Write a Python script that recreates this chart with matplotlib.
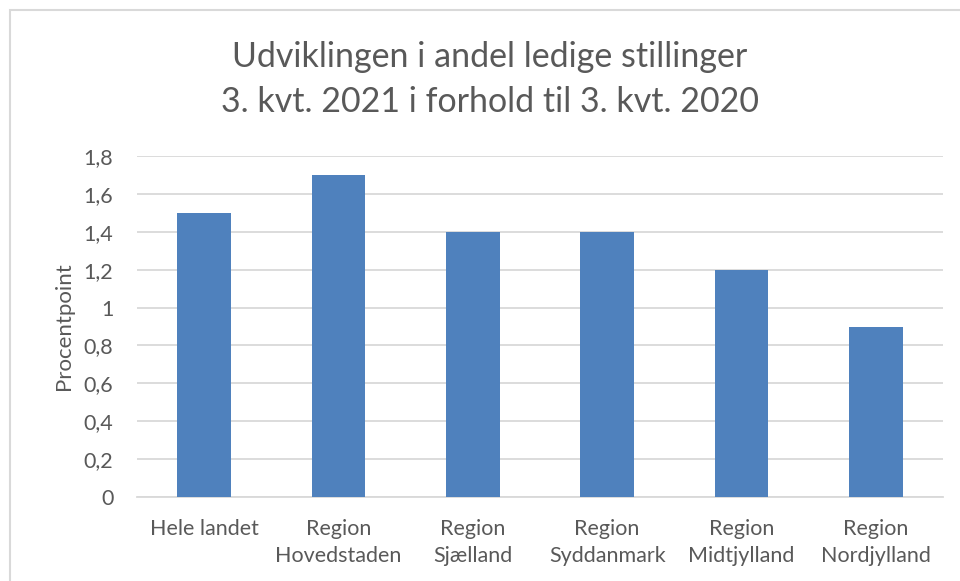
import matplotlib
matplotlib.use('Agg')
import matplotlib.pyplot as plt
from matplotlib.patches import Rectangle

categories = ['Hele landet', 'Region\nHovedstaden', 'Region\nSjælland',
              'Region\nSyddanmark', 'Region\nMidtjylland', 'Region\nNordjylland']
values = [1.5, 1.7, 1.4, 1.4, 1.2, 0.9]
yticks = [0, 0.2, 0.4, 0.6, 0.8, 1.0, 1.2, 1.4, 1.6, 1.8]
ytick_labels = ['0', '0,2', '0,4', '0,6', '0,8', '1', '1,2', '1,4', '1,6', '1,8']

txt = '#595959'
plt.rcParams['font.family'] = ['Lato', 'DejaVu Sans']

fig = plt.figure(figsize=(9.6, 5.81), dpi=100)
fig.patch.set_facecolor('white')

# chart frame (cropped at right and bottom)
fig.patches.append(Rectangle((10/960, -0.05), 1.2, 1 - 10/581 + 0.05,
                             transform=fig.transFigure, fill=False,
                             edgecolor='#D9D9D9', lw=1.5))

ax = fig.add_axes([137/960, 1 - 497/581, (943 - 137)/960, (497 - 156)/581])
x = range(len(categories))
ax.bar(x, values, width=0.4, color='#4F81BD', zorder=3)
ax.set_xlim(-0.5, len(categories) - 0.5)
ax.set_ylim(0, 1.8)
ax.set_yticks(yticks)
ax.set_yticklabels(ytick_labels)
ax.set_xticks(list(x))
ax.set_xticklabels(categories, linespacing=1.45)
ax.tick_params(axis='both', length=0, labelsize=15.5, labelcolor=txt)
ax.tick_params(axis='y', pad=17)
ax.tick_params(axis='x', pad=16)
ax.grid(axis='y', color='#D9D9D9', lw=1.3, zorder=0)
for s in ['top', 'right', 'left']:
    ax.spines[s].set_visible(False)
ax.spines['bottom'].set_color('#D9D9D9')
ax.spines['bottom'].set_linewidth(1.3)
ax.set_ylabel('Procentpoint', fontsize=16, color=txt, labelpad=7)

fig.text(490/960, 1 - 57/581, 'Udviklingen i andel ledige stillinger',
         ha='center', va='center', fontsize=24.5, color=txt)
fig.text(490/960, 1 - 102/581, '3. kvt. 2021 i forhold til 3. kvt. 2020',
         ha='center', va='center', fontsize=24.5, color=txt)

fig.savefig('out.png', dpi=100)
